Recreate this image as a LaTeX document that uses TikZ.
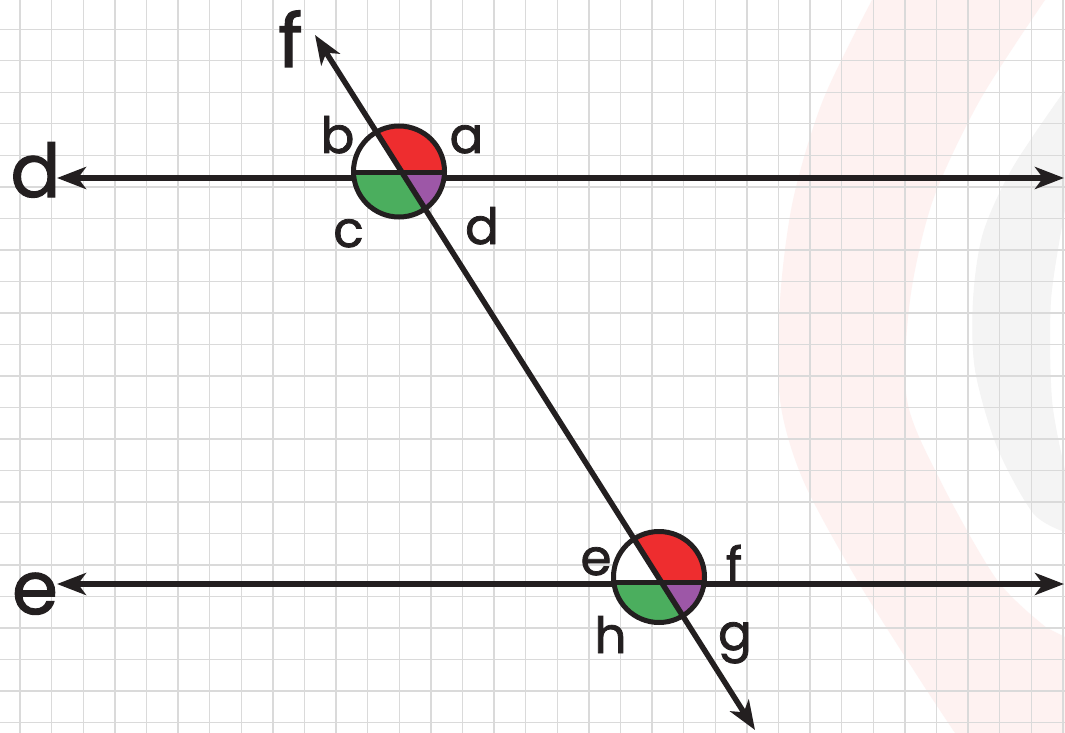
\documentclass[tikz,border=0pt]{standalone}
\usepackage{fontspec}
\newfontfamily\labfont[FakeBold=1.5]{Poppins}
\usetikzlibrary{arrows.meta}
\definecolor{ink}{HTML}{231F20}
\definecolor{gridc}{HTML}{DADADA}
\definecolor{ringpink}{HTML}{FEF2F1}
\definecolor{ringgray}{HTML}{F4F4F4}
\definecolor{angred}{HTML}{EE2D2F}
\definecolor{anggreen}{HTML}{4BAE5E}
\definecolor{angpurple}{HTML}{9D57A7}
\tikzset{
  gridline/.style={draw=gridc, line width=1.4pt},
  mainline/.style={draw=ink, line width=5.5pt,
    {Stealth[length=29pt,width=22pt,inset=8pt]}-{Stealth[length=29pt,width=22pt,inset=8pt]}},
  rim/.style={draw=ink, line width=5pt},
  biglbl/.style={font=\labfont\fontsize{74}{80}\selectfont, inner sep=0pt, anchor=base, text=ink},
  smalllbl/.style={font=\labfont\fontsize{50}{56}\selectfont, inner sep=0pt, anchor=base, text=ink}
}
\begin{document}
\begin{tikzpicture}[x=1pt,y=-1pt]
\useasboundingbox (0,0) rectangle (1065,733);
\fill[white] (0,0) rectangle (1065,733);
% background rings
\fill[ringpink] plot[smooth] coordinates {(872,0) (823,100) (793,200) (780,300) (780,400) (803,480) (857,580) (920,680) (955,733)}
  -- (1065,733) -- (1065,637)
  -- plot[smooth] coordinates {(1047,628) (997,580) (940,480) (907,400) (910,300) (933,200) (980,100) (1045,0)} -- cycle;
\fill[ringgray] (1065,90) -- plot[smooth] coordinates {(1065,90) (1013,167) (983,233) (973,300) (975,370) (997,447) (1033,513) (1065,532)}
  -- (1065,470) -- plot[smooth] coordinates {(1065,470) (1052,400) (1051,300) (1065,210)} -- cycle;
% grid
\foreach \k in {0,...,33} \draw[gridline] ({20+31.6*\k},0) -- ({20+31.6*\k},733);
\foreach \k in {0,...,22} \draw[gridline] (0,{29.3+31.5*\k}) -- (1065,{29.3+31.5*\k});
% coordinates
\coordinate (dL) at (57,178);
\coordinate (dR) at (1064,178);
\coordinate (eL) at (57,584);
\coordinate (eR) at (1064,584);
\coordinate (fT) at (315,35);
\coordinate (fB) at (755,730);
\coordinate (C1) at (399,171.5);
\coordinate (P1) at (401.7,172);
\coordinate (C2) at (659,577);
\coordinate (P2) at (661.3,582);
% parallel lines
\draw[mainline] (dL) -- (dR);
\draw[mainline] (eL) -- (eR);
% angle discs
\foreach \C/\P in {C1/P1, C2/P2}{
  \fill[white] (\C) circle (45.5);
  \begin{scope}
    \clip (\C) circle (45.5);
    \fill[angred] (\P) -- ++(-53.5,-84.5) -- ++(153.5,-15.5) -- ++(0,100) -- cycle;
    \fill[angpurple] (\P) -- ++(100,0) -- ++(0,100) -- ++(-46.5,-15.5) -- cycle;
    \fill[anggreen] (\P) -- ++(53.5,84.5) -- ++(-153.5,15.5) -- ++(0,-100) -- cycle;
    \draw[ink, line width=5pt] ([xshift=-60pt]\P) -- ([xshift=60pt]\P);
  \end{scope}
}
% transversal
\draw[mainline] (fT) -- (fB);
% rims
\draw[rim] (C1) circle (45.5);
\draw[rim] (C2) circle (45.5);
% labels
\node[biglbl] (Ld) at (35.5,197) {d};
\node[biglbl] (Le) at (35,614) {e};
\node[biglbl] (Lf) at (290.5,67) {f};
\node[smalllbl] (la) at (466.5,153) {a};
\node[smalllbl] (lb) at (337.5,153) {b};
\node[smalllbl] (lc) at (348.5,247) {c};
\node[smalllbl] (ld) at (482,244) {d};
\node[smalllbl] (le) at (596,575) {e};
\node[smalllbl] (lf) at (734,583) {f};
\node[smalllbl] (lg) at (735,650) {g};
\node[smalllbl] (lh) at (610.5,653) {h};
\end{tikzpicture}
\end{document}
